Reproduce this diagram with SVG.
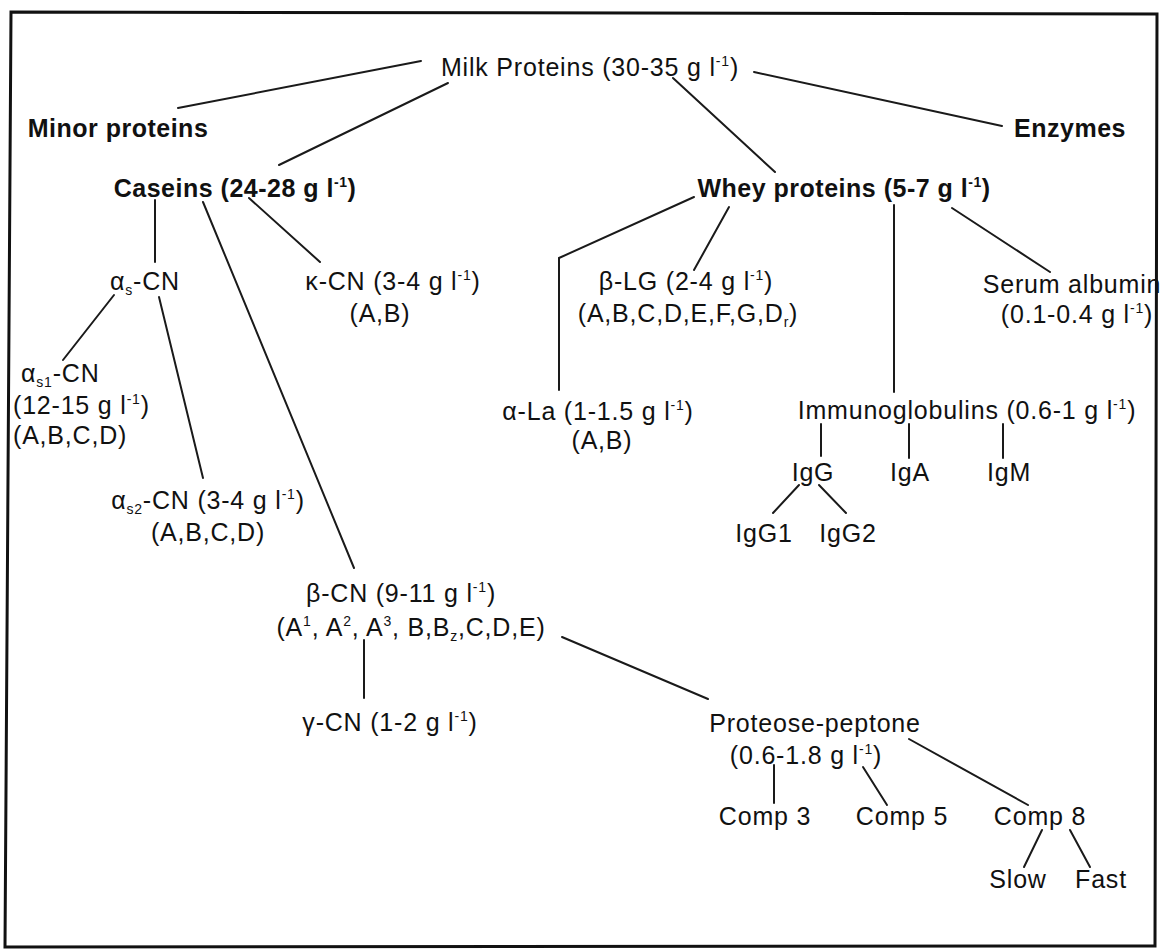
<svg xmlns="http://www.w3.org/2000/svg" width="1162" height="950" viewBox="0 0 1162 950">
<style>
text{font-family:"Liberation Sans",Arial,Helvetica,sans-serif;font-size:25px;fill:#111;letter-spacing:0.8px}
.b{font-weight:bold;letter-spacing:0.5px}
.m{text-anchor:middle}
.sup{font-size:14px}
.sub{font-size:14px}
#connectors line,#connectors polyline{stroke:#1a1a1a;stroke-width:2;fill:none;stroke-linecap:round}
#frame{fill:none;stroke:#111;stroke-width:3}
</style>
<rect width="1162" height="950" fill="#fff"/>
<polygon id="frame" points="11,12 1157,14 1155,946 5,947"/>
<g id="connectors">
<line x1="421" y1="61" x2="178" y2="108"/>
<line x1="448" y1="83" x2="279" y2="165"/>
<line x1="673" y1="78" x2="775" y2="172"/>
<line x1="754" y1="72" x2="1002" y2="126"/>
<line x1="155" y1="200" x2="155" y2="262"/>
<line x1="203" y1="202" x2="354" y2="568"/>
<line x1="249" y1="198" x2="320" y2="262"/>
<polyline points="694,197 559,258 559,390"/>
<line x1="729" y1="207" x2="694" y2="270"/>
<line x1="894" y1="205" x2="894" y2="392"/>
<line x1="952" y1="208" x2="1050" y2="272"/>
<line x1="114" y1="295" x2="63" y2="360"/>
<line x1="159" y1="297" x2="203" y2="478"/>
<line x1="821" y1="424" x2="821" y2="456"/>
<line x1="909" y1="424" x2="909" y2="458"/>
<line x1="1003" y1="424" x2="1003" y2="458"/>
<line x1="799" y1="485" x2="773" y2="513"/>
<line x1="819" y1="485" x2="846" y2="513"/>
<line x1="364" y1="640" x2="364" y2="698"/>
<line x1="562" y1="637" x2="708" y2="699"/>
<line x1="774" y1="765" x2="774" y2="803"/>
<line x1="863" y1="767" x2="887" y2="805"/>
<line x1="909" y1="739" x2="1028" y2="805"/>
<line x1="1042" y1="830" x2="1024" y2="867"/>
<line x1="1070" y1="830" x2="1090" y2="867"/>
</g>
<g id="milk"><text class="m" x="590" y="76">Milk Proteins (30-35 g l<tspan class="sup" dy="-10">-1</tspan><tspan dy="10">)</tspan></text></g>
<g id="minor"><text class="b m" x="118" y="137">Minor proteins</text></g>
<g id="enzymes"><text class="b m" x="1070" y="137">Enzymes</text></g>
<g id="caseins"><text class="b m" x="235" y="197">Caseins (24-28 g l<tspan class="sup" dy="-10">-1</tspan><tspan dy="10">)</tspan></text></g>
<g id="whey"><text class="b m" x="844" y="197">Whey proteins (5-7 g l<tspan class="sup" dy="-10">-1</tspan><tspan dy="10">)</tspan></text></g>
<g id="alphas"><text class="m" x="145" y="290">α<tspan class="sub" dy="5">s</tspan><tspan dy="-5">-CN</tspan></text></g>
<g id="kappa"><text class="m" x="393" y="290">κ-CN (3-4 g l<tspan class="sup" dy="-10">-1</tspan><tspan dy="10">)</tspan></text><text class="m" x="380" y="322">(A,B)</text></g>
<g id="betalg"><text class="m" x="686" y="290">β-LG (2-4 g l<tspan class="sup" dy="-10">-1</tspan><tspan dy="10">)</tspan></text><text class="m" x="688" y="322">(A,B,C,D,E,F,G,D<tspan class="sub" dy="5">r</tspan><tspan dy="-5">)</tspan></text></g>
<g id="serum"><text class="m" x="1072" y="293">Serum albumin</text><text class="m" x="1077" y="323">(0.1-0.4 g l<tspan class="sup" dy="-10">-1</tspan><tspan dy="10">)</tspan></text></g>
<g id="alphas1"><text x="21" y="382">α<tspan class="sub" dy="5">s1</tspan><tspan dy="-5">-CN</tspan></text><text x="13" y="414">(12-15 g l<tspan class="sup" dy="-10">-1</tspan><tspan dy="10">)</tspan></text><text x="13" y="444">(A,B,C,D)</text></g>
<g id="alphala"><text class="m" x="598" y="420">α-La (1-1.5 g l<tspan class="sup" dy="-10">-1</tspan><tspan dy="10">)</tspan></text><text class="m" x="602" y="449">(A,B)</text></g>
<g id="immuno"><text class="m" x="967" y="419">Immunoglobulins (0.6-1 g l<tspan class="sup" dy="-10">-1</tspan><tspan dy="10">)</tspan></text></g>
<g id="igg"><text class="m" x="813" y="481">IgG</text></g>
<g id="iga"><text class="m" x="910" y="481">IgA</text></g>
<g id="igm"><text class="m" x="1009" y="481">IgM</text></g>
<g id="igg1"><text class="m" x="764" y="542">IgG1</text></g>
<g id="igg2"><text class="m" x="848" y="542">IgG2</text></g>
<g id="alphas2"><text class="m" x="208" y="509">α<tspan class="sub" dy="5">s2</tspan><tspan dy="-5">-CN (3-4 g l</tspan><tspan class="sup" dy="-10">-1</tspan><tspan dy="10">)</tspan></text><text class="m" x="208" y="541">(A,B,C,D)</text></g>
<g id="betacn"><text class="m" x="401" y="602">β-CN (9-11 g l<tspan class="sup" dy="-10">-1</tspan><tspan dy="10">)</tspan></text><text class="m" x="411" y="636">(A<tspan class="sup" dy="-10">1</tspan><tspan dy="10">, A</tspan><tspan class="sup" dy="-10">2</tspan><tspan dy="10">, A</tspan><tspan class="sup" dy="-10">3</tspan><tspan dy="10">, B,B</tspan><tspan class="sub" dy="5">z</tspan><tspan dy="-5">,C,D,E)</tspan></text></g>
<g id="gammacn"><text class="m" x="390" y="731">γ-CN (1-2 g l<tspan class="sup" dy="-10">-1</tspan><tspan dy="10">)</tspan></text></g>
<g id="proteose"><text class="m" x="815" y="732">Proteose-peptone</text><text class="m" x="806" y="764">(0.6-1.8 g l<tspan class="sup" dy="-10">-1</tspan><tspan dy="10">)</tspan></text></g>
<g id="comp3"><text class="m" x="765" y="825">Comp 3</text></g>
<g id="comp5"><text class="m" x="902" y="825">Comp 5</text></g>
<g id="comp8"><text class="m" x="1040" y="825">Comp 8</text></g>
<g id="slow"><text class="m" x="1018" y="888">Slow</text></g>
<g id="fast"><text class="m" x="1101" y="888">Fast</text></g>
</svg>
